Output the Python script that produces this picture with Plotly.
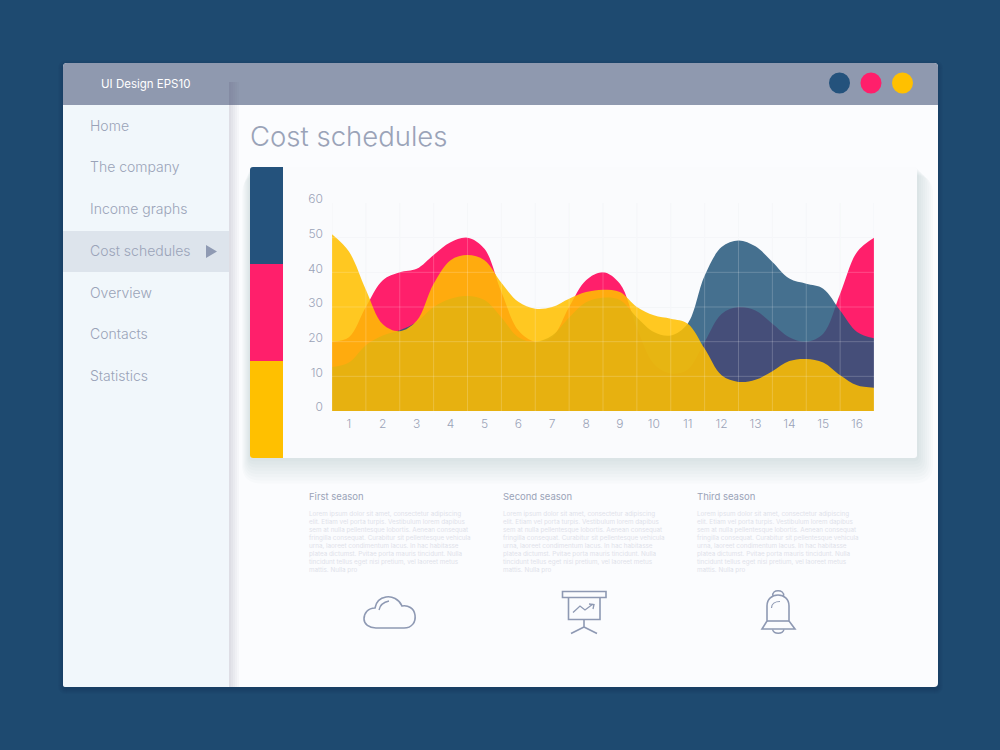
import plotly.graph_objects as go

# values read at each band edge and band middle (the curves peak on the vertical grid lines)
positions = [0.5, 1, 1.5, 2, 2.5, 3, 3.5, 4, 4.5, 5, 5.5, 6, 6.5, 7, 7.5, 8, 8.5, 9, 9.5, 10, 10.5,
             11, 11.5, 12, 12.5, 13, 13.5, 14, 14.5, 15, 15.5, 16, 16.5]
navy_vals = [12.7, 14, 19, 21.8, 23.3, 25.7, 30, 32.4, 33.2, 32, 27, 21.3, 20, 21.8, 27, 31.4, 32.7,
             32, 27, 22.8, 21.8, 25.2, 39, 47.3, 49.2, 47.5, 43, 38.2, 36.7, 35.3, 29, 22.8, 21]
red_vals = [20, 21.3, 30, 37.7, 40, 41, 45, 48.7, 50, 46.8, 34.3, 23.3, 20, 21.3, 30, 37.7, 40,
            36.7, 24, 13.6, 10.8, 12, 20, 28, 30, 29, 25.2, 21.3, 20, 22.3, 33.8, 45.9, 50]
yellow_vals = [51, 46, 35, 25, 23, 26, 36.7, 43.5, 45, 43.5, 37, 31.5, 29.5, 30, 32.4, 34.3, 35,
               34.3, 30, 27.6, 26.6, 25.2, 18, 10.3, 8.4, 9, 11.5, 14.4, 15, 14, 10.3, 7.4, 6.7]

x_ticks = list(range(1, 17))
x_grid = [0.5, 1.5, 2.5, 3.5, 4.5, 5.5, 6.5, 7.5, 8.5, 9.5, 10.5, 11.5, 12.5, 13.5, 14.5, 15.5, 16.5]
y_ticks = [0, 10, 20, 30, 40, 50, 60]

menu_items = ["Home", "The company", "Income graphs", "Cost schedules", "Overview", "Contacts", "Statistics"]
menu_y = [125, 166.5, 208.5, 250.5, 292, 333.5, 375.5]

seasons = ["First season", "Second season", "Third season"]
season_x = [309, 503, 697]
lorem_lines = [
    "Lorem ipsum dolor sit amet, consectetur adipiscing",
    "elit. Etiam vel porta turpis. Vestibulum lorem dapibus",
    "sem at nulla pellentesque lobortis. Aenean consequat",
    "fringilla consequat. Curabitur sit pellentesque vehicula",
    "urna, laoreet condimentum lacus. In hac habitasse",
    "platea dictumst. Pvitae porta mauris tincidunt. Nulla",
    "tincidunt tellus eget nisi pretium, vel laoreet metus",
    "mattis. Nulla pro",
]

NAVY = "#24527C"
RED = "#FF1F6B"
YELLOW = "#FFC000"
TEXT = "#9AA3B8"
ICON = "#8E99B3"
FONT = "Inter"

shapes = []
notes = []


def rrect(x0, y0, x1, y1, r=0.0):
    return (
        f"M{x0+r},{y0} L{x1-r},{y0} Q{x1},{y0} {x1},{y0+r} L{x1},{y1-r} Q{x1},{y1} {x1-r},{y1} "
        f"L{x0+r},{y1} Q{x0},{y1} {x0},{y1-r} L{x0},{y0+r} Q{x0},{y0} {x0+r},{y0} Z"
    )


def box(x0, y0, x1, y1, color, r=0.0):
    shapes.append(dict(type="path", path=rrect(x0, y0, x1, y1, r), xref="x", yref="y",
                       fillcolor=color, line_width=0, layer="below"))


def stroke(path, width=1.6):
    shapes.append(dict(type="path", path=path, xref="x", yref="y", fillcolor="rgba(0,0,0,0)",
                       line=dict(color=ICON, width=width), layer="below"))


def dot(cx, cy, r, color):
    shapes.append(dict(type="circle", x0=cx-r, x1=cx+r, y0=cy-r, y1=cy+r, xref="x", yref="y",
                       fillcolor=color, line_width=0, layer="below"))


def label(x, y, text, size, color=TEXT, anchor="left", weight=300):
    notes.append(dict(x=x, y=y, xref="x", yref="y", text=text, showarrow=False, xanchor=anchor,
                      yanchor="middle", borderpad=0, borderwidth=0,
                      font=dict(family=FONT, size=size, color=color, weight=weight)))


# window
for i in range(6):
    box(63-i, 63-i+2, 938+i, 687+i+2, "rgba(8,30,55,0.03)", 4+i)
box(63, 63, 938, 687, "#FBFCFE", 4)
box(63, 63, 938, 105, "#8F99AF", 4)
box(63, 100, 938, 105, "#8F99AF")

# sidebar and its shadow
for i in range(5):
    box(229, 82, 231+i*2, 687, "rgba(80,85,125,0.035)")
box(63, 105, 229, 687, "#F1F7FB", 2)
box(63, 231, 229, 272, "#DDE4EC")
for name, y in zip(menu_items, menu_y):
    label(90, y, name, 14)
shapes.append(dict(type="path", path="M206,245 L217,251.5 L206,258 Z", xref="x", yref="y",
                   fillcolor="#8F9AB3", line_width=0, layer="below"))

# header
label(101, 83.5, "UI Design EPS10", 11.5, "#FFFFFF", weight=400)
dot(839.5, 83, 10.5, NAVY)
dot(871, 83, 10.5, RED)
dot(902.5, 83, 10.5, YELLOW)
label(250, 136, "Cost schedules", 27.5)

# card with shadow
for i in range(9):
    box(250-i, 167+i, 917+i*2, 458+i*3.2, "rgba(105,125,145,0.025)", 3+i*2)
box(250, 167, 917, 458, "#FAFBFD", 3)
shapes.append(dict(type="path", path="M283,167 L253,167 Q250,167 250,170 L250,264 L283,264 Z",
                   xref="x", yref="y", fillcolor=NAVY, line_width=0, layer="below"))
box(250, 264, 283, 361, RED)
shapes.append(dict(type="path", path="M283,361 L250,361 L250,455 Q250,458 253,458 L283,458 Z",
                   xref="x", yref="y", fillcolor=YELLOW, line_width=0, layer="below"))

# text columns
for name, x in zip(seasons, season_x):
    label(x, 496, name, 9.5, weight=400)
    for n, line in enumerate(lorem_lines):
        label(x, 514 + n * 8, line, 6.3, "#DFE2EA", weight=400)

# cloud
stroke("M376,628 L404,628 C412,628 416,622 415,615 C414,608 408,605 402,606 C399,599 392,596 386,597 "
       "C380,598 376,602 375,608 C368,608 364,613 364,619 C364,624 369,628 376,628 Z")
stroke("M379,610 C380,605 384,602 389,601", 1.3)
# presentation board
stroke("M562.5,591.5 L606,591.5 L606,597.5 L562.5,597.5 Z")
stroke("M568.5,597.5 L568.5,619.5 L600,619.5 L600,597.5")
stroke("M584,619.5 L584,627 M584,627 L571,633.5 M584,627 L597,633.5")
stroke("M573,612.5 L580,606 L585,610 L593,604 M589,604 L594,604.5 L593,609", 1.3)
# bell
stroke("M767,621 L767,606 C767,599 772,595 778,595 C784,595 789,599 789,606 L789,621 L795,629 L762,629 Z")
stroke("M767,621 L789,621")
stroke("M773,596 C771,589 785,589 783.5,596", 1.4)
stroke("M772.5,629.5 C774,634.5 782.5,634.5 784,629.5", 1.4)
stroke("M771.5,608 C771.5,604 775,601.5 780,601.5", 1.2)

# grid: faint on the card, and again over the areas since it shows through the fills
for v in x_grid:
    shapes.append(dict(type="line", x0=v, x1=v, y0=0, y1=60, xref="x2", yref="y2",
                       line=dict(color="#F3F5F8", width=1), layer="below"))
    shapes.append(dict(type="line", x0=v, x1=v, y0=0, y1=60, xref="x2", yref="y2",
                       line=dict(color="rgba(255,255,255,0.2)", width=1), layer="above"))
for v in y_ticks[1:]:
    shapes.append(dict(type="line", x0=0.5, x1=16.5, y0=v, y1=v, xref="x2", yref="y2",
                       line=dict(color="rgba(255,255,255,0.2)", width=1), layer="above"))

fig = go.Figure()
# invisible trace so the full page axes exist
fig.add_trace(go.Scatter(x=[0, 1000], y=[0, 750], mode="markers", marker_opacity=0, xaxis="x", yaxis="y",
                         hoverinfo="skip", showlegend=False))
for name, vals, fill in [
    ("Red", red_vals, "rgb(255,31,107)"),
    ("Navy", navy_vals, "rgba(36,87,123,0.85)"),
    ("Yellow", yellow_vals, "rgba(255,192,0,0.87)"),
]:
    fig.add_trace(go.Scatter(x=positions, y=vals, name=name, mode="lines", fill="tozeroy", fillcolor=fill,
                             line=dict(shape="spline", smoothing=1.0, width=0, color=fill),
                             xaxis="x2", yaxis="y2", showlegend=False))

tick_font = dict(family=FONT, size=12, color=TEXT, weight=300)
fig.update_layout(
    width=1000, height=750, margin=dict(l=0, r=0, t=0, b=0, autoexpand=False),
    paper_bgcolor="#1E4A70", plot_bgcolor="rgba(0,0,0,0)",
    xaxis=dict(domain=[0, 1], range=[0, 1000], visible=False, fixedrange=True),
    yaxis=dict(domain=[0, 1], range=[750, 0], visible=False, fixedrange=True),
    xaxis2=dict(domain=[332/1000, 874/1000], range=[0.5, 16.5], anchor="y2", tickvals=x_ticks,
                showgrid=False, zeroline=False, showline=False, ticks="", tickfont=tick_font,
                ticklabelstandoff=4),
    yaxis2=dict(domain=[(750-411)/750, (750-203)/750], range=[0, 60], anchor="x2", tickvals=y_ticks,
                showgrid=True, gridcolor="#F3F5F8", gridwidth=1, zeroline=False, showline=False,
                ticks="", tickfont=tick_font, ticklabelstandoff=8, ticklabelshift=-4),
    shapes=shapes, annotations=notes,
)

fig.write_html("out.html", config={"displayModeBar": False}, post_script="document.body.style.margin='0';")
